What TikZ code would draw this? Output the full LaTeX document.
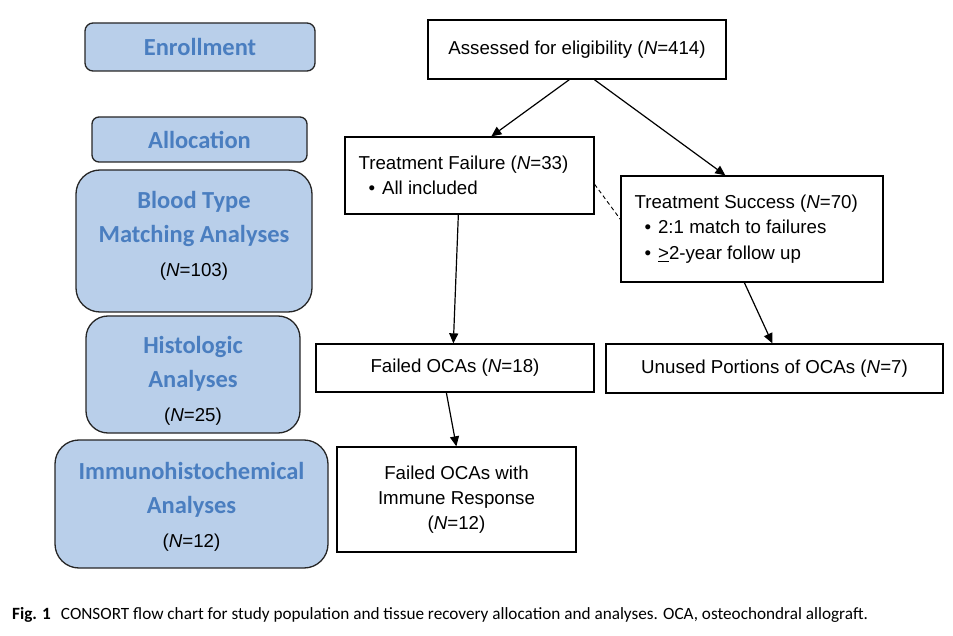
\documentclass[tikz,border=0pt]{standalone}
\usepackage{fontspec}
\setmainfont{Liberation Sans}
\newfontfamily\calibfont{Carlito}
\usetikzlibrary{arrows.meta,calc}
\definecolor{boxblue}{RGB}{185,207,234}
\definecolor{txtblue}{RGB}{74,126,192}
\begin{document}
\begin{tikzpicture}[x=1pt,y=-1pt,
  lbox/.style={draw=black!85, line width=1.3pt, fill=boxblue, rounded corners=#1,
    inner sep=0pt, align=center, text=txtblue,
    font=\calibfont\bfseries\fontsize{24.5}{34}\selectfont},
  wbox/.style={draw=black, line width=1.3pt, fill=white, inner sep=0pt,
    align=center, font=\fontsize{18.7}{25}\selectfont},
  ntxt/.style={inner sep=0pt, align=left, font=\fontsize{18.7}{25.5}\selectfont},
  arr/.style={-{Triangle[length=10pt,width=9pt]}, line width=1.2pt}]
\useasboundingbox (0,0) rectangle (953,636);
\newcommand{\nlab}[1]{{\normalfont\fontsize{18.7}{33}\selectfont\color{black}(\textit{N}=#1)}}
% left column
\node[lbox=8pt, minimum width=230pt, minimum height=48pt] (enr) at (200,47) {\raisebox{-1pt}{Enrollment}};
\node[lbox=7pt, minimum width=215pt, minimum height=45pt] (alloc) at (199.5,139.5) {\raisebox{-4pt}{Allocation}};
\node[lbox=24pt, minimum width=236pt, minimum height=142pt] (blood) at (194,241)
  {Blood Type\\Matching Analyses\\\nlab{103}\\[-20pt]};
\node[lbox=22pt, minimum width=214pt, minimum height=117pt] (hist) at (193,374.5)
  {Histologic\\Analyses\\\nlab{25}\\[-42pt]};
\node[lbox=24pt, minimum width=273pt, minimum height=128pt] (immh) at (191.5,504)
  {Immunohistochemical\\Analyses\\\nlab{12}\\[-35pt]};
% right column
\node[wbox, minimum width=298pt, minimum height=59pt] (assess) at (577,49.5)
  {\raisebox{3pt}{Assessed for eligibility (\textit{N}=414)}};
\node[wbox, minimum width=249pt, minimum height=77pt] (tf) at (469.5,175.5) {};
\node[ntxt, anchor=west] (tftext) at ([xshift=14pt]tf.west)
  {Treatment Failure (\textit{N}=33)\\\hspace*{10pt}\textbullet\hspace{7pt}All included};
\node[wbox, minimum width=262pt, minimum height=106pt] (ts) at (752,229) {};
\node[ntxt, anchor=west] (tstext) at ([xshift=14pt]ts.west)
  {Treatment Success (\textit{N}=70)\\\hspace*{10pt}\textbullet\hspace{7pt}2:1 match to failures\\\hspace*{10pt}\textbullet\hspace{7pt}\underline{>}2-year follow up};
\node[wbox, minimum width=278pt, minimum height=48pt] (focas) at (455,368)
  {Failed OCAs (\textit{N}=18)};
\node[wbox, minimum width=337pt, minimum height=49pt] (unused) at (774.5,368.5)
  {Unused Portions of OCAs (\textit{N}=7)};
\node[wbox, minimum width=239pt, minimum height=105pt] (immune) at (456.5,499.5)
  {Failed OCAs with\\Immune Response\\(\textit{N}=12)};
% connectors
\draw[arr] ([xshift=142pt]assess.south west) -- ([xshift=147pt]tf.north west);
\draw[arr] ([xshift=167pt]assess.south west) -- ([xshift=105pt]ts.north west);
\draw[dashed, line width=0.9pt, dash pattern=on 4pt off 3pt] ([yshift=-48pt]tf.north east) -- ([yshift=-44pt]ts.north west);
\draw[arr] ([xshift=114pt]tf.south west) -- ([xshift=138pt]focas.north west);
\draw[arr] ([xshift=124pt]ts.south west) -- ([xshift=167pt]unused.north west);
\draw[arr] ([xshift=131pt]focas.south west) -- ([xshift=120pt]immune.north west);
% caption
\node[anchor=base west, inner sep=0pt, font=\calibfont\fontsize{17.2}{20}\selectfont, text=black] (caption) at (12,619)
  {\textbf{Fig. 1}\hspace{10pt}CONSORT flow chart for study population and tissue recovery allocation and analyses. OCA, osteochondral allograft.};
\end{tikzpicture}
\end{document}
